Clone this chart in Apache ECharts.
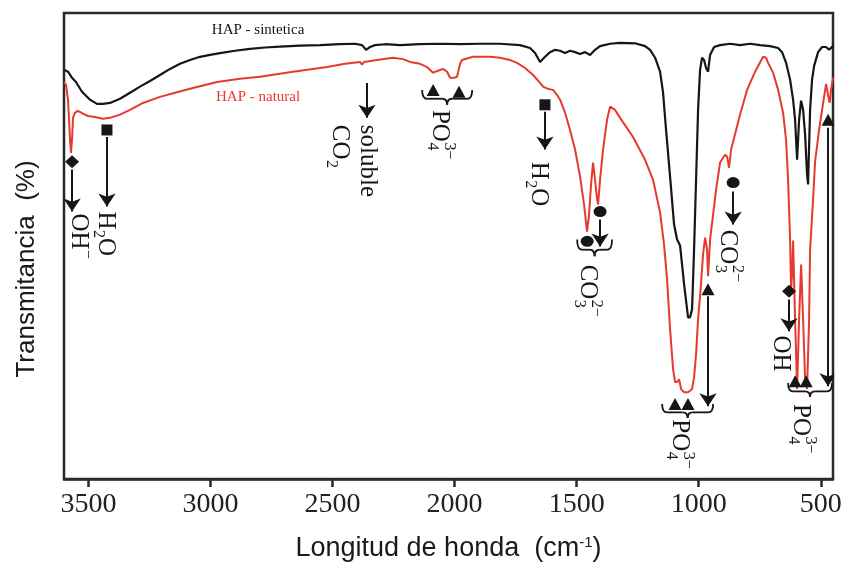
<!DOCTYPE html>
<html>
<head>
<meta charset="utf-8">
<script src="https://cdn.jsdelivr.net/npm/echarts@6.0.0/dist/echarts.min.js"></script>
<style>
html,body{margin:0;padding:0;background:#fff;}
#chart{width:848px;height:567px;}
</style>
</head>
<body>
<div id="chart"></div>
<script>
// ---------- DATA ----------
const xTickLabels = [3500, 3000, 2500, 2000, 1500, 1000, 500];

// HAP - sintetica  [wavenumber cm-1, transmittance (arb. %)]
const sintetica = [
[3600,87.8],[3583.6,87.4],[3567.2,86.1],[3550.8,85.2],[3526.3,83.1],[3493.5,81.4],[3464.8,80.5],[3440.2,80.5],
[3411.6,80.7],[3370.6,81.6],[3329.6,82.9],[3288.7,84.2],[3247.7,85.4],[3206.7,86.7],[3165.7,88.0],[3124.8,89.1],
[3083.8,89.9],[3042.8,90.6],[3001.9,91.0],[2960.9,91.4],[2899.5,91.9],[2838.0,92.3],[2776.6,92.6],[2715.1,92.8],
[2633.2,93.0],[2551.2,93.1],[2469.3,93.3],[2407.9,93.4],[2379.2,93.1],[2362.8,92.1],[2346.4,92.7],[2325.9,93.1],
[2285.0,93.3],[2223.5,93.1],[2141.6,93.3],[2059.6,93.4],[1977.7,93.3],[1895.8,93.4],[1813.8,93.4],[1731.9,93.1],
[1690.9,92.5],[1670.5,91.4],[1650.0,89.5],[1629.5,90.6],[1609.0,91.6],[1588.5,92.1],[1568.0,91.9],[1547.5,91.4],
[1527.1,91.9],[1506.6,91.6],[1486.1,91.2],[1465.6,91.6],[1445.1,91.0],[1424.7,92.1],[1404.2,92.9],[1363.2,93.4],
[1322.2,93.6],[1260.8,93.5],[1219.8,92.9],[1199.3,92.1],[1178.8,90.4],[1158.4,87.4],[1146.1,82.9],[1133.8,74.9],
[1117.4,64.9],[1101.0,54.6],[1088.7,51.4],[1076.4,50.1],[1060.0,41.8],[1043.7,34.7],[1035.5,34.7],[1027.3,36.4],
[1019.1,49.2],[1010.9,64.2],[1002.7,79.2],[994.5,87.8],[986.3,90.4],[978.1,89.9],[969.9,88.2],[961.7,87.4],
[953.5,91.0],[937.2,92.7],[912.6,93.1],[871.6,93.4],[830.6,93.1],[789.6,93.4],[748.7,93.1],[707.7,92.9],
[674.9,92.5],[658.6,91.6],[642.2,89.3],[625.8,85.7],[613.5,81.4],[605.3,77.1],[597.1,68.5],[588.9,77.1],
[580.7,81.2],[572.5,79.2],[564.3,73.9],[556.2,65.3],[552.1,63.2],[543.9,79.2],[535.7,85.7],[527.5,88.6],
[511.1,91.6],[494.7,92.7],[478.3,92.7],[466.0,92.1],[450,92.9]
];

// HAP - natural
const natural = [
[3600,85.2],[3591.8,84.6],[3583.6,81.4],[3575.4,72.8],[3571.3,70.0],[3567.2,72.8],[3563.1,77.5],[3554.9,78.6],
[3542.6,79.0],[3534.5,78.8],[3522.2,78.4],[3501.7,77.9],[3473.0,77.7],[3440.2,77.3],[3411.6,77.5],[3370.6,78.2],
[3329.6,79.2],[3276.4,80.7],[3206.7,82.0],[3145.3,82.9],[3071.5,83.9],[2973.2,85.2],[2879.0,85.9],[2797.0,86.3],
[2661.9,87.4],[2522.6,88.4],[2448.8,89.1],[2387.4,89.5],[2379.2,88.9],[2371.0,89.5],[2317.7,89.9],[2252.2,90.4],
[2211.2,90.1],[2182.5,89.5],[2141.6,89.1],[2112.9,88.4],[2088.3,87.2],[2067.8,87.6],[2047.3,88.0],[2030.9,87.4],
[2018.7,86.1],[2002.3,86.1],[1990.0,86.3],[1977.7,89.1],[1969.5,89.9],[1924.4,90.6],[1854.8,90.6],[1813.8,90.4],
[1772.9,89.9],[1744.2,89.3],[1711.4,88.2],[1678.6,86.7],[1650.0,85.0],[1637.7,84.2],[1617.2,83.7],[1596.7,83.5],
[1580.3,82.4],[1568.0,81.4],[1547.5,78.6],[1527.1,74.9],[1506.6,70.7],[1486.1,64.9],[1469.7,58.9],[1457.5,53.1],
[1449.3,56.7],[1441.1,63.2],[1432.9,67.9],[1424.7,64.2],[1416.5,60.0],[1412.4,58.9],[1404.2,64.2],[1391.9,70.7],
[1375.5,77.1],[1363.2,79.9],[1342.7,79.2],[1322.2,77.5],[1269.0,73.4],[1219.8,68.5],[1187.0,64.2],[1158.4,57.2],
[1142.0,50.3],[1129.7,42.8],[1117.4,32.1],[1105.1,23.6],[1096.9,20.8],[1088.7,20.8],[1080.5,21.4],[1072.3,19.3],
[1060.0,18.6],[1043.7,18.6],[1027.3,19.3],[1019.1,21.8],[1010.9,26.8],[1002.7,34.3],[994.5,39.2],[982.2,48.2],
[974.0,51.8],[965.8,49.2],[961.7,43.5],[953.5,51.4],[941.2,56.7],[928.9,62.1],[912.6,67.9],[892.1,69.6],
[883.9,69.2],[875.7,66.8],[867.5,70.7],[855.2,73.2],[830.6,78.2],[801.9,83.5],[769.1,87.4],[736.4,90.6],
[724.1,90.4],[715.9,89.3],[695.4,87.2],[674.9,83.5],[654.5,78.6],[642.2,72.8],[634.0,64.2],[625.8,51.4],
[621.7,40.7],[617.6,43.9],[613.5,51.2],[605.3,34.3],[597.1,19.3],[588.9,34.3],[580.7,46.0],[572.5,34.3],
[564.3,21.4],[556.2,19.3],[547.9,34.3],[543.9,49.2],[531.6,60.0],[523.4,68.1],[507.0,74.9],[494.7,79.2],
[478.3,84.8],[470.1,82.4],[464.0,80.7],[457.8,83.5],[450,86.1]
];

// band markers: [wavenumber, T, symbol]
const markers = [
[3567, 68.1, 'diamond'],
[3424, 74.9, 'rect'],
[2359, 86.3, 'emptyRect'],
[2088, 83.5, 'triangle'],
[1982, 83.1, 'triangle'],
[1630, 80.3, 'rect'],
[1404, 57.4, 'circle'],
[1457, 51.0, 'circle'],
[1097, 16.1, 'triangle'],
[1044, 16.1, 'triangle'],
[962, 40.7, 'triangle'],
[859, 63.6, 'circle'],
[630, 40.3, 'diamond'],
[605, 21.0, 'triangle'],
[560, 21.0, 'triangle'],
[470, 77.1, 'triangle']
];

// arrows: [wavenumber, T start, T end (head)]
const arrows = [
[3567, 66.4, 57.4],
[3424, 73.4, 58.5],
[2359, 85.0, 77.5],
[1630, 78.8, 70.7],
[1404, 55.7, 49.9],
[962, 39.2, 15.6],
[859, 61.7, 54.6],
[630, 38.5, 31.7],
[470, 75.4, 19.9]
];

// braces: [wn start, wn end, T ends, T line, T tip]
const braces = [
[2133, 1928, 83.5, 81.6, 80.3],
[1498, 1355, 51.4, 49.2, 47.8],
[1150, 941, 16.1, 14.3, 13.1],
[634, 454, 20.6, 18.8, 17.6]
];

// text labels: [wavenumber, T, rotated(1)/horizontal(0), colour key]
const labelPos = [
[2805, 96.4, 0, 'k'],
[2805, 82.0, 0, 'r'],
[3542, 57.0, 1, 'k'],
[3430, 57.4, 1, 'k'],
[2355, 76.0, 1, 'k'],
[2473, 76.0, 1, 'k'],
[2060, 79.2, 1, 'k'],
[1658, 68.1, 1, 'k'],
[1457, 46.0, 1, 'k'],
[1080, 12.8, 1, 'k'],
[880, 53.5, 1, 'k'],
[663, 30.8, 1, 'k'],
[581, 16.1, 1, 'k']
];
// label text pieces: n = normal, sub = subscript, sup = superscript
const labelParts = [
[['HAP - sintetica','n']],
[['HAP - natural','n']],
[['OH','n'],['\u2212','sup']],
[['H','n'],['2','sub'],['O','n']],
[['soluble','n']],
[['CO','n'],['2','sub']],
[['PO','n'],['4','sub'],['3\u2212','sup']],
[['H','n'],['2','sub'],['O','n']],
[['CO','n'],['3','sub'],['2\u2212','sup']],
[['PO','n'],['4','sub'],['3\u2212','sup']],
[['CO','n'],['3','sub'],['2\u2212','sup']],
[['OH','n']],
[['PO','n'],['4','sub'],['3\u2212','sup']]
];

// ---------- CHART ----------
const SERIF = '"Liberation Serif", "Times New Roman", serif';
const SANS = '"Liberation Sans", Arial, sans-serif';
const INK = '#161616';
const RED = '#e63a2e';

const mctx = document.createElement('canvas').getContext('2d');
function textW(t, size) {
  mctx.font = size + 'px ' + SERIF;
  return mctx.measureText(t).width;
}

function renderLabel(params, api) {
  const i = params.dataIndex;
  const p = api.coord([api.value(0), api.value(1)]);
  const rotated = labelPos[i][2] === 1;
  const color = labelPos[i][3] === 'r' ? RED : INK;
  const F = rotated ? 25 : 15;
  const S = 16;
  const parts = labelParts[i];
  const items = [];
  let cx = 0, scriptStart = null, scriptEnd = 0;
  parts.forEach(function (pt) {
    const t = pt[0], k = pt[1];
    if (k === 'n') {
      items.push({t: t, x: cx, y: 0, s: F});
      cx += textW(t, F);
      scriptStart = null;
    } else {
      if (scriptStart === null) { scriptStart = cx; scriptEnd = cx; }
      const y = k === 'sub' ? F * 0.30 : -F * 0.36;
      items.push({t: t, x: scriptStart + 0.5, y: y, s: S});
      scriptEnd = Math.max(scriptEnd, scriptStart + 0.5 + textW(t, S));
      cx = scriptEnd;
    }
  });
  const shift = rotated ? 0 : -cx / 2;
  const children = items.map(function (it) {
    return {
      type: 'text',
      x: it.x + shift,
      y: it.y,
      style: {
        text: it.t,
        fontSize: it.s,
        fontFamily: SERIF,
        fill: color,
        align: 'left',
        verticalAlign: 'middle',
        textAlign: 'left',
        textVerticalAlign: 'middle'
      }
    };
  });
  return {
    type: 'group',
    x: p[0],
    y: p[1],
    rotation: rotated ? -Math.PI / 2 : 0,
    children: children
  };
}

function renderBrace(params, api) {
  const a = api.coord([api.value(0), api.value(2)]);
  const b = api.coord([api.value(1), api.value(2)]);
  const yl = api.coord([api.value(0), api.value(3)])[1];
  const yt = api.coord([api.value(0), api.value(4)])[1];
  const x1 = a[0], x2 = b[0], y0 = a[1];
  const xm = (x1 + x2) / 2;
  const r = 5;
  const st = {stroke: INK, lineWidth: 1.8, fill: null};
  return {
    type: 'group',
    children: [
      {type: 'bezierCurve', shape: {x1: x1, y1: y0, x2: x1 + r, y2: yl, cpx1: x1, cpy1: yl}, style: st},
      {type: 'line', shape: {x1: x1 + r, y1: yl, x2: xm - r, y2: yl}, style: st},
      {type: 'bezierCurve', shape: {x1: xm - r, y1: yl, x2: xm, y2: yt, cpx1: xm, cpy1: yl}, style: st},
      {type: 'bezierCurve', shape: {x1: xm, y1: yt, x2: xm + r, y2: yl, cpx1: xm, cpy1: yl}, style: st},
      {type: 'line', shape: {x1: xm + r, y1: yl, x2: x2 - r, y2: yl}, style: st},
      {type: 'bezierCurve', shape: {x1: x2 - r, y1: yl, x2: x2, y2: y0, cpx1: x2, cpy1: yl}, style: st}
    ]
  };
}

const markerSize = {diamond: [14, 13], rect: [11, 11], emptyRect: [8, 8], triangle: [13, 12], circle: [13, 11]};

const chart = echarts.init(document.getElementById('chart'), null, {renderer: 'canvas'});
chart.setOption({
  animation: false,
  backgroundColor: '#ffffff',
  grid: {
    left: 64, right: 15, top: 13, bottom: 87,
    show: true, borderColor: '#2a2a2a', borderWidth: 2.5, backgroundColor: 'transparent'
  },
  xAxis: {
    type: 'value',
    inverse: true,
    min: 450,
    max: 3600,
    name: 'Longitud de honda  (cm{sup|-1})',
    nameLocation: 'middle',
    nameGap: 56,
    nameTextStyle: {
      fontFamily: SANS, fontSize: 27, color: '#1a1a1a',
      rich: {sup: {fontFamily: SANS, fontSize: 15, color: '#1a1a1a', verticalAlign: 'top', lineHeight: 14}}
    },
    axisLine: {show: true, lineStyle: {color: '#2a2a2a', width: 2.5}},
    axisTick: {show: true, customValues: xTickLabels, length: 8, lineStyle: {color: '#2a2a2a', width: 2.5}},
    axisLabel: {
      customValues: xTickLabels,
      formatter: function (v) { return String(v); },
      fontFamily: SERIF, fontSize: 28, color: '#222', margin: 12
    },
    splitLine: {show: false}
  },
  yAxis: {
    type: 'value',
    min: 0,
    max: 100,
    name: 'Transmitancia  (%)',
    nameLocation: 'middle',
    nameGap: 24,
    nameTextStyle: {fontFamily: SANS, fontSize: 26, color: '#1a1a1a', padding: [0, 46, 0, 0]},
    axisLine: {show: false},
    axisTick: {show: false},
    axisLabel: {show: false},
    splitLine: {show: false}
  },
  series: [
    {
      name: 'HAP - natural', type: 'line', data: natural, showSymbol: false, symbol: 'none',
      lineStyle: {color: RED, width: 2}, z: 2
    },
    {
      name: 'HAP - sintetica', type: 'line', data: sintetica, showSymbol: false, symbol: 'none',
      lineStyle: {color: INK, width: 2.2}, z: 3
    },
    {
      type: 'lines', coordinateSystem: 'cartesian2d', z: 4,
      symbol: ['none', 'arrow'], symbolSize: 13,
      lineStyle: {color: INK, width: 2, opacity: 1, curveness: 0},
      data: arrows.map(function (a) { return {coords: [[a[0], a[1]], [a[0], a[2]]]}; })
    },
    {
      type: 'scatter', z: 5,
      itemStyle: {color: INK, borderColor: INK, borderWidth: 0, opacity: 1},
      emphasis: {disabled: true},
      data: markers.map(function (m) {
        return {
          value: [m[0], m[1]],
          symbol: m[2],
          symbolSize: markerSize[m[2]],
          itemStyle: m[2] === 'emptyRect' ? {color: '#fff', borderColor: INK, borderWidth: 1.4, opacity: 1} : {opacity: 1}
        };
      })
    },
    {
      type: 'custom', z: 5, renderItem: renderBrace,
      data: braces, encode: {x: [0, 1], y: [2, 3, 4]}
    },
    {
      type: 'custom', z: 6, renderItem: renderLabel,
      data: labelPos.map(function (l) { return [l[0], l[1]]; }), encode: {x: 0, y: 1}
    }
  ]
});
</script>
</body>
</html>
